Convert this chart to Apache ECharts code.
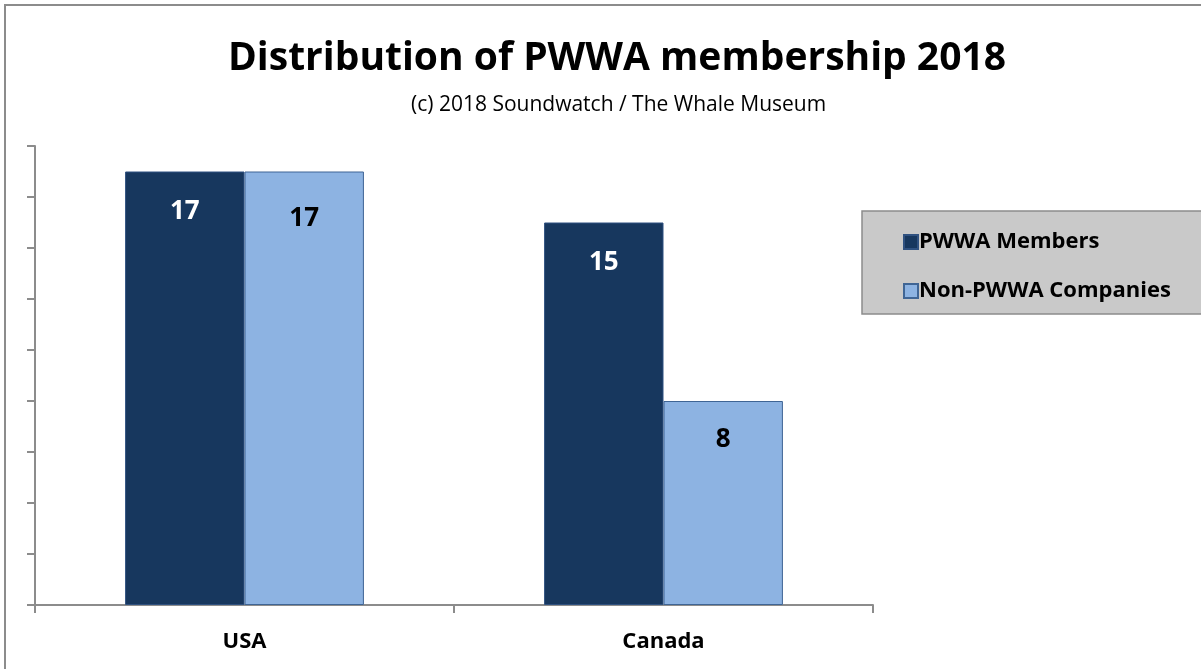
<!DOCTYPE html>
<html>
<head>
<meta charset="utf-8">
<script src="https://cdn.jsdelivr.net/npm/echarts@6/dist/echarts.min.js"></script>
<style>
  html, body { margin: 0; padding: 0; background: #fff; }
  #chart { width: 1201px; height: 669px; }
</style>
</head>
<body>
<div id="chart"></div>
<script>
// Membership counts by country
const categories = ['USA', 'Canada'];
const seriesNames = ['PWWA Members', 'Non-PWWA Companies'];
const pwwaMembers = [17, 15];
const nonPwwaCompanies = [17, 8];
const yMin = 0;
const yMax = 18;
const yInterval = 2;

const FONT = '"Open Sans", Lato, sans-serif';
const chart = echarts.init(document.getElementById('chart'), null, { renderer: 'canvas' });

const labelBase = {
  show: true,
  position: 'insideTop',
  fontFamily: FONT,
  fontWeight: 'bold',
  fontSize: 26
};

chart.setOption({
  backgroundColor: '#ffffff',
  animation: false,
  title: [
    {
      text: 'Distribution of PWWA membership 2018',
      left: 228,
      top: 39,
      padding: 0,
      textStyle: { fontFamily: FONT, fontWeight: 'bold', fontSize: 39, color: '#000' }
    },
    {
      text: '(c) 2018 Soundwatch / The Whale Museum',
      left: 411,
      top: 95,
      padding: 0,
      textStyle: { fontFamily: FONT, fontWeight: 'normal', fontSize: 21, color: '#000' }
    }
  ],
  graphic: [
    {
      type: 'rect',
      shape: { x: 5, y: 5, width: 1300, height: 800 },
      style: { fill: 'none', stroke: '#8c8c8c', lineWidth: 2 },
      z: 0
    },
    {
      type: 'rect',
      shape: { x: 862, y: 211, width: 400, height: 103 },
      style: { fill: '#c9c9c9', stroke: '#8c8c8c', lineWidth: 1.5 },
      z: 0
    }
  ],
  legend: {
    orient: 'vertical',
    left: 898,
    top: 226,
    itemGap: 27,
    itemWidth: 14,
    itemHeight: 14,
    icon: 'rect',
    data: seriesNames,
    textStyle: { fontFamily: FONT, fontWeight: 'bold', fontSize: 22, color: '#000', padding: [0, 0, 0, -4] },
    z: 5
  },
  grid: { left: 35, right: 328, top: 146, bottom: 64 },
  xAxis: {
    type: 'category',
    data: categories,
    axisLine: { lineStyle: { color: '#8c8c8c', width: 2 } },
    axisTick: { show: true, length: 8, lineStyle: { color: '#8c8c8c', width: 2 } },
    axisLabel: { fontFamily: FONT, fontWeight: 'bold', fontSize: 22, color: '#000', margin: 26 }
  },
  yAxis: {
    type: 'value',
    min: yMin,
    max: yMax,
    interval: yInterval,
    axisLine: { show: true, lineStyle: { color: '#8c8c8c', width: 2 } },
    axisTick: { show: true, length: 8, lineStyle: { color: '#8c8c8c', width: 2 } },
    axisLabel: { show: false },
    splitLine: { show: false }
  },
  series: [
    {
      name: seriesNames[0],
      type: 'bar',
      data: pwwaMembers,
      barGap: '0%',
      barCategoryGap: '43%',
      itemStyle: { color: '#17375e', borderColor: '#2f5180', borderWidth: 1 },
      label: Object.assign({}, labelBase, { color: '#ffffff', distance: 27 })
    },
    {
      name: seriesNames[1],
      type: 'bar',
      data: nonPwwaCompanies.map((v, i) => i === 0
        ? { value: v, label: { distance: 34 } }
        : { value: v }),
      itemStyle: { color: '#8db3e2', borderColor: '#3f6595', borderWidth: 1 },
      label: Object.assign({}, labelBase, { color: '#000000', distance: 26 })
    }
  ]
});
</script>
</body>
</html>
